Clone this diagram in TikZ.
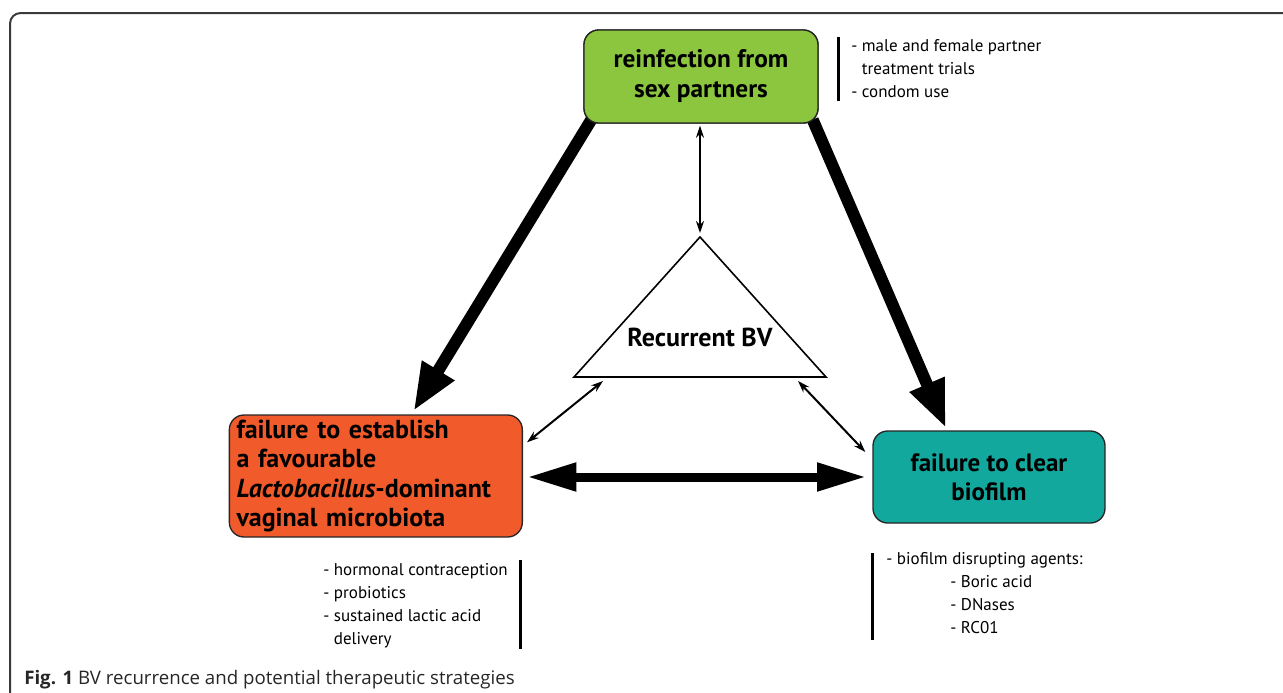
\documentclass[tikz,border=0pt]{standalone}
\usepackage{fontspec}
\setmainfont{PT Sans}
\newfontfamily\capfont{Open Sans}
\usetikzlibrary{arrows.meta,calc}
\definecolor{boxgreen}{HTML}{8CC63F}
\definecolor{boxorange}{HTML}{F15A2B}
\definecolor{boxteal}{HTML}{13A89E}
\definecolor{framegray}{HTML}{3A3A3A}
\begin{document}
\begin{tikzpicture}[x=0.75pt,y=-0.75pt,
  box/.style={draw=black!85, line width=1pt, rounded corners=11pt, inner sep=0pt,
    font=\bfseries\fontsize{19}{22.5}\selectfont, align=center},
  bigarrow/.style={line width=9pt, -{Triangle[length=36pt,width=26pt]}},
  wide/.style={line width=6.75pt, {Triangle[length=37pt,width=20pt]}-{Triangle[length=37pt,width=20pt]}},
  thin/.style={line width=1.5pt, {Stealth[length=9pt,width=6pt]}-{Stealth[length=9pt,width=6pt]}},
  bar/.style={line width=2.25pt},
  note/.style={inner sep=0pt, align=left, font=\fontsize{12.75}{17.4}\selectfont}]
\useasboundingbox (0,0) rectangle (1283,693);
% frame
\draw[framegray, line width=1.5pt, rounded corners=8pt] (10,693) -- (10,13) -- (1283,13);

% thick arrows (drawn first, boxes cover their starts)
\node[box, fill=boxgreen, minimum width=175.5pt, minimum height=69.75pt] (green) at (701,76.5) {reinfection from\\sex partners};
\node[box, fill=boxorange, minimum width=219.75pt, minimum height=91.5pt, align=left,
  font=\bfseries\fontsize{19.5}{22}\selectfont, text width=212pt, xshift=1pt] (orange) at (374.5,476)
  {\hspace*{1.5pt}failure to establish\\\hspace*{1.5pt}a favourable\\\hspace*{1.5pt}\textit{Lactobacillus}-dominant\\\hspace*{1.5pt}vaginal microbiota};
\node[box, fill=boxteal, minimum width=174pt, minimum height=69pt,
  font=\bfseries\fontsize{18.8}{22}\selectfont] (teal) at (989,477) {failure to clear\\biofilm};

\draw[bigarrow] ($(green.south west)+(8,-4)$) -- ($(orange.north)+(37.5,-3)$);
\draw[bigarrow] ($(green.south east)+(-6,-4)$) -- ($(teal.north)+(-43,-2)$);
\draw[wide] ($(orange.east)+(4,1)$) -- ($(teal.west)+(-6,0)$);

% redraw green box on top of arrow starts
\node[box, fill=boxgreen, minimum width=175.5pt, minimum height=69.75pt] at (green) {reinfection from\\sex partners};

% triangle
\coordinate (apex) at (700,237);
\coordinate (bl) at (574,377);
\coordinate (br) at (826,377);
\draw[line width=1.2pt, fill=white] (apex) -- (br) -- (bl) -- cycle;
\node[inner sep=0pt, font=\bfseries\fontsize{19.5}{22}\selectfont] (rbv) at (700,337) {Recurrent BV};

% thin arrows
\draw[thin] ($(green.south)+(-1,2)$) -- ($(apex)+(0,-4)$);
\draw[thin] ($(orange.north east)+(4,28)$) -- ($(bl)+(29,4)$);
\draw[thin] ($(br)+(-28,4)$) -- ($(teal.west)+(-7,-25)$);

% notes
\coordinate (b1t) at (838,37); \coordinate (b1b) at (838,101);
\draw[bar] (b1t) -- (b1b);
\node[note, anchor=north west] (n1) at (851,39)
  {- male and female partner\\\phantom{- }treatment trials\\- condom use};

\coordinate (b2t) at (520,560); \coordinate (b2b) at (520,649);
\draw[bar] (b2t) -- (b2b);
\node[note, anchor=north west] (n2) at (323,563)
  {- hormonal contraception\\- probiotics\\- sustained lactic acid\\\phantom{- }delivery};

\coordinate (b3t) at (872,553); \coordinate (b3b) at (872,640);
\draw[bar] (b3t) -- (b3b);
\node[note, anchor=north west] (n3) at (886,552)
  {- biofilm disrupting agents:\\\hspace*{48pt}- Boric acid\\\hspace*{48pt}- DNases\\\hspace*{48pt}- RC01};

% caption
\node[inner sep=0pt, anchor=base west, font=\capfont\fontsize{14}{16}\selectfont, text=black!85] (cap) at (24,684)
  {\textbf{Fig. 1} BV recurrence and potential therapeutic strategies};
\end{tikzpicture}
\end{document}
